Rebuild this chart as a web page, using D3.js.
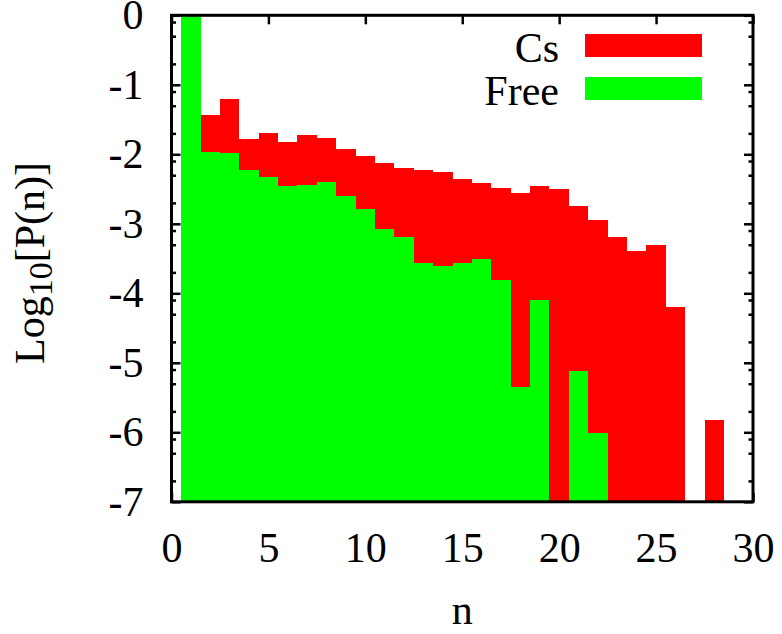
<!DOCTYPE html>
<html><head><meta charset="utf-8">
<script src="https://cdn.jsdelivr.net/npm/d3@7"></script>
<style>body{margin:0;background:#fff} svg{display:block}</style>
</head><body>
<svg id="c" width="782" height="634"></svg>
<script>
// ---- data ----
const nValues    = [1,2,3,4,5,6,7,8,9,10,11,12,13,14,15,16,17,18,19,20,21,22,23,24,25,26,27,28];
const csValues   = [-0.05,-1.43,-1.21,-1.78,-1.70,-1.83,-1.72,-1.77,-1.92,-2.02,-2.12,-2.19,-2.23,-2.26,-2.36,-2.41,-2.49,-2.56,-2.45,-2.50,-2.75,-2.95,-3.19,-3.39,-3.30,-4.20,null,-5.83];
const freeValues = [0,-1.96,-1.98,-2.23,-2.32,-2.45,-2.44,-2.40,-2.60,-2.79,-3.08,-3.19,-3.56,-3.60,-3.57,-3.50,-3.81,-5.35,-4.10,null,-5.12,-6.01,null,null,null,null,null,null];
const seriesNames  = ["Cs","Free"];
const seriesColors = ["#ff0000","#00ff00"];
const xTicks = [0,5,10,15,20,25,30];
const yTicks = [0,-1,-2,-3,-4,-5,-6,-7];
const minorMantissas = [2,5,8];

const FONT = '"Liberation Serif"';
const svg = d3.select("#c");
const x = d3.scaleLinear().domain([0,30]).range([171.5,753]);
const y = d3.scaleLinear().domain([-7,0]).range([501.8,15.3]);

const yMinor = [];
for (let d = 0; d > -7; d--) minorMantissas.forEach(m => yMinor.push(d - 1 + Math.log10(m)));

function styleAxis(g){
  g.attr("font-family", null).attr("font-size", null);
  g.select(".domain").remove();
  g.selectAll(".tick line").attr("stroke","#000").attr("stroke-width",2.5);
  g.selectAll("text").style("font-family",FONT).style("font-size","42px").attr("fill","#000");
}
const fmt = d => String(d);

// ticks (drawn behind bars)
svg.append("g").attr("transform",`translate(0,${y(-7)})`)
  .call(d3.axisBottom(x).tickValues(xTicks).tickSize(-9).tickPadding(30).tickFormat(fmt)).call(styleAxis);
svg.append("g").attr("transform",`translate(0,${y(0)})`)
  .call(d3.axisTop(x).tickValues(xTicks).tickSize(-9).tickFormat("")).call(styleAxis);
svg.append("g").attr("transform",`translate(${x(0)},0)`)
  .call(d3.axisLeft(y).tickValues(yTicks).tickSize(-9).tickPadding(28).tickFormat(fmt)).call(styleAxis);
svg.append("g").attr("transform",`translate(${x(0)},0)`)
  .call(d3.axisLeft(y).tickValues(yMinor).tickSize(-4.5).tickFormat("")).call(styleAxis);
svg.append("g").attr("transform",`translate(${x(30)},0)`)
  .call(d3.axisRight(y).tickValues(yTicks).tickSize(-9).tickFormat("")).call(styleAxis);
svg.append("g").attr("transform",`translate(${x(30)},0)`)
  .call(d3.axisRight(y).tickValues(yMinor).tickSize(-4.5).tickFormat("")).call(styleAxis);

// bars
[csValues, freeValues].forEach((vals, si) => {
  const data = nValues.map((n,i) => ({n, v: vals[i]})).filter(d => d.v !== null);
  svg.append("g").selectAll("rect").data(data).join("rect")
    .attr("x", d => x(d.n - 0.5))
    .attr("width", d => x(d.n + 0.5) - x(d.n - 0.5))
    .attr("y", d => y(d.v))
    .attr("height", d => y(-7) - y(d.v))
    .attr("fill", seriesColors[si])
    .attr("shape-rendering","crispEdges");
});

// frame
svg.append("rect").attr("x",x(0)).attr("y",y(0))
  .attr("width",x(30)-x(0)).attr("height",y(-7)-y(0))
  .attr("fill","none").attr("stroke","#000").attr("stroke-width",3);

// legend
const legY = [62,105];
seriesNames.forEach((name,i) => {
  svg.append("text").attr("x",559).attr("y",legY[i]).attr("text-anchor","end")
    .style("font-family",FONT).style("font-size","42px").text(name);
  svg.append("rect").attr("x",585).attr("y",legY[i]-28).attr("width",117).attr("height",23)
    .attr("fill",seriesColors[i]);
});

// axis labels
svg.append("text").attr("x",(x(0)+x(30))/2).attr("y",624).attr("text-anchor","middle")
  .style("font-family",FONT).style("font-size","42px").text("n");
const yl = svg.append("text").attr("transform",`translate(44,263) rotate(-90)`)
  .attr("text-anchor","middle").style("font-family",FONT).style("font-size","42px");
yl.append("tspan").text("Log");
yl.append("tspan").style("font-size","34px").attr("dy",8).text("10");
yl.append("tspan").attr("dy",-8).text("[P(n)]");
</script>
</body></html>
